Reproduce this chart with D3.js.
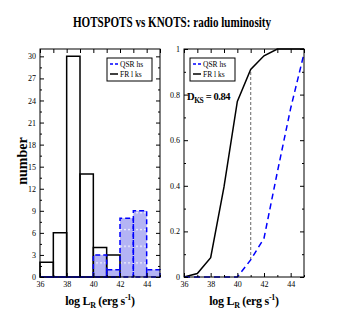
<!DOCTYPE html>
<html>
<head>
<meta charset="utf-8">
<script src="https://cdn.jsdelivr.net/npm/d3@7"></script>
<style>
  body { margin: 0; background: #fff; }
  text { font-family: "Liberation Serif", "Times New Roman", serif; }
</style>
</head>
<body>
<div id="chart"></div>
<script>
// histogram data (left panel), bins are [edge, edge+1]
let binEdges = [36, 37, 38, 39, 40, 41, 42, 43, 44];
let frCounts = [2, 6, 30, 14, 4, 3, 0, 0, 0];
let qsrCounts = [0, 0, 0, 0, 3, 1, 8, 9, 1];

// cumulative distributions (right panel)
let cdfX = [36, 37, 38, 39, 40, 41, 42, 43, 44, 45];
let frCdf = [0, 0.015, 0.085, 0.395, 0.77, 0.91, 0.97, 1, 1, 1];
let qsrCdf = [0, 0, 0, 0, 0, 0.075, 0.17, 0.46, 0.74, 0.98];

let KS_X = 41; // where the max distance is
let KS_TEXT = "0.84";

// tick values
let xMajor = [36, 38, 40, 42, 44];
let xMinor = [37, 39, 41, 43, 45];
let histMajor = [0, 3, 6, 9, 12, 15, 18, 21, 24, 27, 30];
let histMinor = [1.5, 4.5, 7.5, 10.5, 13.5, 16.5, 19.5, 22.5, 25.5, 28.5];
let cdfMajor = [0, 0.2, 0.4, 0.6, 0.8, 1];
let cdfMinor = [0.1, 0.3, 0.5, 0.7, 0.9];

// layout
let W = 343, H = 327;
let TOP = 49, BOTTOM = 277;
let LEFT1 = 40, RIGHT1 = 160;
let LEFT2 = 184, RIGHT2 = 304;

const svg = d3.select("#chart")
    .append("svg")
    .attr("width", W)
    .attr("height", H);

// fill pattern for the QSR bars: light blue with white dotted lines
const defs = svg.append("defs");
const pat = defs.append("pattern")
    .attr("id", "qsrFill")
    .attr("patternUnits", "userSpaceOnUse")
    .attr("width", 4)
    .attr("height", 16.7);
pat.append("rect").attr("width", 4).attr("height", 16.7).attr("fill", "#b4b4f4");
pat.append("rect").attr("x", 0).attr("y", 12).attr("width", 2).attr("height", 1).attr("fill", "#fff");

// title
svg.append("text")
    .attr("x", 172)
    .attr("y", 27)
    .attr("text-anchor", "middle")
    .attr("font-size", 15)
    .attr("font-weight", "bold")
    .attr("textLength", 198)
    .attr("lengthAdjust", "spacingAndGlyphs")
    .text("HOTSPOTS vs KNOTS: radio luminosity");

const x1 = d3.scaleLinear().domain([36, 45]).range([LEFT1, RIGHT1]);
const y1 = d3.scaleLinear().domain([0, 31]).range([BOTTOM, TOP]);
const x2 = d3.scaleLinear().domain([36, 45]).range([LEFT2, RIGHT2]);
const y2 = d3.scaleLinear().domain([0, 1]).range([BOTTOM, TOP]);

function drawAxes(x, y, yMajor, yMinor) {
    let g = svg.append("g").attr("font-size", 8);
    let left = x.range()[0], right = x.range()[1];

    function add(axis, tx, ty, labels) {
        let a = g.append("g")
            .attr("transform", `translate(${tx},${ty})`)
            .call(axis);
        a.select(".domain").remove();
        a.selectAll("text")
            .attr("font-family", "Liberation Serif, serif")
            .attr("font-size", 8)
            .attr("fill", "#000");
        a.selectAll("line").attr("stroke", "#000").attr("stroke-width", 1);
        if (!labels) a.selectAll("text").remove();
        return a;
    }

    add(d3.axisBottom(x).tickValues(xMajor).tickSize(-4).tickPadding(4), 0, BOTTOM, true);
    add(d3.axisBottom(x).tickValues(xMinor).tickSize(-2), 0, BOTTOM, false);
    add(d3.axisTop(x).tickValues(xMajor.concat(xMinor)).tickSize(-4), 0, TOP, false);
    add(d3.axisLeft(y).tickValues(yMajor).tickSize(-4).tickPadding(4).tickFormat(d3.format("~g")), left, 0, true);
    add(d3.axisLeft(y).tickValues(yMinor).tickSize(-2), left, 0, false);
    add(d3.axisRight(y).tickValues(yMajor).tickSize(-4), right, 0, false);
    add(d3.axisRight(y).tickValues(yMinor).tickSize(-2), right, 0, false);

    svg.append("rect")
        .attr("x", left)
        .attr("y", TOP)
        .attr("width", right - left)
        .attr("height", BOTTOM - TOP)
        .attr("fill", "none")
        .attr("stroke", "#000")
        .attr("stroke-width", 1);
}

function barPath(x, y, edge, count) {
    let x0 = x(edge), xe = x(edge + 1), y0 = y(0), yh = y(count);
    return `M${x0},${y0}L${x0},${yh}L${xe},${yh}L${xe},${y0}Z`;
}

// ---- left panel: histograms
let qsrBins = binEdges.map((e, i) => ({ edge: e, count: qsrCounts[i] }));
let frBins = binEdges.map((e, i) => ({ edge: e, count: frCounts[i] }));

svg.append("g").selectAll("rect")
    .data(qsrBins.filter(d => d.count > 0))
    .join("rect")
    .attr("x", d => x1(d.edge))
    .attr("y", d => y1(d.count))
    .attr("width", d => x1(d.edge + 1) - x1(d.edge))
    .attr("height", d => y1(0) - y1(d.count))
    .attr("fill", "url(#qsrFill)");

svg.append("g").selectAll("path")
    .data(frBins.filter(d => d.count > 0))
    .join("path")
    .attr("d", d => barPath(x1, y1, d.edge, d.count))
    .attr("fill", "none")
    .attr("stroke", "#000")
    .attr("stroke-width", 1.5);

svg.append("g").selectAll("path")
    .data(qsrBins)
    .join("path")
    .attr("d", d => barPath(x1, y1, d.edge, d.count))
    .attr("fill", "none")
    .attr("stroke", "#0000ff")
    .attr("stroke-width", 1.5)
    .attr("stroke-dasharray", "5,3");

drawAxes(x1, y1, histMajor, histMinor);

// ---- right panel: cumulative distributions
let frPts = cdfX.map((v, i) => ({ x: v, y: frCdf[i] }));
let qsrPts = cdfX.map((v, i) => ({ x: v, y: qsrCdf[i] }));

const cdfLine = d3.line()
    .x(d => x2(d.x))
    .y(d => y2(d.y));

let ksLow = qsrPts.find(d => d.x === KS_X).y;
let ksHigh = frPts.find(d => d.x === KS_X).y;
svg.append("line")
    .attr("x1", x2(KS_X)).attr("x2", x2(KS_X))
    .attr("y1", y2(ksLow)).attr("y2", y2(ksHigh))
    .attr("stroke", "#808080")
    .attr("stroke-width", 1.2)
    .attr("stroke-dasharray", "3,2");

svg.append("path")
    .datum(frPts)
    .attr("fill", "none")
    .attr("stroke", "#000")
    .attr("stroke-width", 1.5)
    .attr("d", cdfLine);

svg.append("path")
    .datum(qsrPts)
    .attr("fill", "none")
    .attr("stroke", "#0000ff")
    .attr("stroke-width", 1.5)
    .attr("stroke-dasharray", "6,4")
    .attr("d", cdfLine);

drawAxes(x2, y2, cdfMajor, cdfMinor);

// D_KS label
let dks = svg.append("text")
    .attr("x", 187)
    .attr("y", 100)
    .attr("font-size", 10.5)
    .attr("font-weight", "bold")
    .attr("letter-spacing", -0.4);
dks.append("tspan").text("D");
dks.append("tspan").attr("font-size", 7.5).attr("dy", 3).text("KS");
dks.append("tspan").attr("dy", -3).text(" = " + KS_TEXT);

// legends
function legend(bx, by, bw) {
    let g = svg.append("g");
    g.append("rect")
        .attr("x", bx).attr("y", by)
        .attr("width", bw).attr("height", 23)
        .attr("fill", "#fff")
        .attr("stroke", "#000")
        .attr("stroke-width", 1);
    let items = [
        { name: "QSR hs", color: "#0000ff", dash: "3,2" },
        { name: "FR l ks", color: "#000", dash: null }
    ];
    items.forEach((it, i) => {
        let yy = by + 6 + i * 10;
        g.append("line")
            .attr("x1", bx + 3).attr("x2", bx + 11)
            .attr("y1", yy).attr("y2", yy)
            .attr("stroke", it.color)
            .attr("stroke-width", 1.5)
            .attr("stroke-dasharray", it.dash);
        g.append("text")
            .attr("x", bx + 13)
            .attr("y", yy + 2.5)
            .attr("font-size", 7.5)
            .text(it.name);
    });
}
legend(107, 58, 45);
legend(190, 58, 45);

// axis titles
function xTitle(cx) {
    let t = svg.append("text")
        .attr("x", cx)
        .attr("y", 305)
        .attr("text-anchor", "middle")
        .attr("font-size", 12)
        .attr("font-weight", "bold")
        .attr("letter-spacing", -0.3);
    t.append("tspan").text("log L");
    t.append("tspan").attr("font-size", 8).attr("dy", 3).text("R");
    t.append("tspan").attr("dy", -3).text(" (erg s");
    t.append("tspan").attr("font-size", 8).attr("dy", -5).text("-1");
    t.append("tspan").attr("dy", 5).text(")");
}
xTitle(100);
xTitle(244);

svg.append("text")
    .attr("transform", "translate(27,161) rotate(-90)")
    .attr("text-anchor", "middle")
    .attr("font-size", 14)
    .attr("font-weight", "bold")
    .text("number");
</script>
</body>
</html>
